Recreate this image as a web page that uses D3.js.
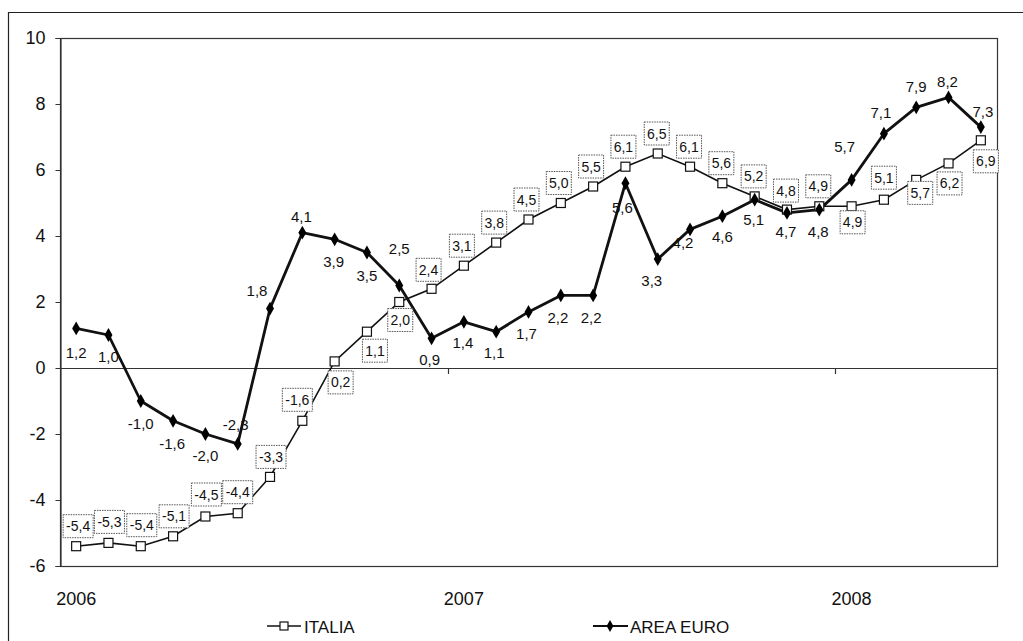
<!DOCTYPE html>
<html>
<head>
<meta charset="utf-8">
<script src="https://cdn.jsdelivr.net/npm/d3@7"></script>
<style>
  body { margin: 0; background: #fff; }
  svg { display: block; font-family: "Liberation Sans", Arial, sans-serif; }
</style>
</head>
<body>
<div id="chart"></div>
<script>
// Monthly categories, Jan 2006 - May 2008
const months = [
  "gen-06", "feb-06", "mar-06", "apr-06", "mag-06", "giu-06", "lug-06", "ago-06", "set-06", "ott-06", "nov-06", "dic-06",
  "gen-07", "feb-07", "mar-07", "apr-07", "mag-07", "giu-07", "lug-07", "ago-07", "set-07", "ott-07", "nov-07", "dic-07",
  "gen-08", "feb-08", "mar-08", "apr-08", "mag-08"
];
const yearStarts = ["gen-07", "gen-08"];
const yearLabelMonths = ["gen-06", "gen-07", "gen-08"];
const yearLabels = ["2006", "2007", "2008"];
const yTicks = [-6, -4, -2, 0, 2, 4, 6, 8, 10];

const italia = [-5.4, -5.3, -5.4, -5.1, -4.5, -4.4, -3.3, -1.6, 0.2, 1.1, 2.0, 2.4, 3.1, 3.8, 4.5,
  5.0, 5.5, 6.1, 6.5, 6.1, 5.6, 5.2, 4.8, 4.9, 4.9, 5.1, 5.7, 6.2, 6.9];
const areaEuro = [1.2, 1.0, -1.0, -1.6, -2.0, -2.3, 1.8, 4.1, 3.9, 3.5, 2.5, 0.9, 1.4, 1.1, 1.7,
  2.2, 2.2, 5.6, 3.3, 4.2, 4.6, 5.1, 4.7, 4.8, 5.7, 7.1, 7.9, 8.2, 7.3];

// label placement (offset of label centre from the point), layout only
const italiaLabelPos = [
  [2, -20], [1, -21], [1, -21], [1, -20], [1, -22], [0, -21], [1, -20], [-5, -21], [6, 21], [8, 19],
  [1, 18], [-3, -19], [-2, -20], [-2, -20], [-2, -20], [-2, -20], [-2, -20], [-2, -20], [-1, -20], [-1, -20],
  [-1, -20], [-1, -20], [-1, -19], [-1, -20], [1, 16], [0, -22], [4, 13], [1, 20], [5, 21]
];
const euroLabelPos = [
  [0, 24], [0, 22], [0, 23], [-1, 23], [0, 22], [-2, -19], [-13, -18], [-1, -16], [-1, 22], [0, 23],
  [0, -37], [-2, 21], [-1, 21], [-2, 21], [-2, 22], [-3, 22], [-2, 22], [-3, 24], [-6, 21], [-7, 13],
  [0, 20], [-1, 20], [-1, 19], [-1, 22], [-7, -33], [-3, -21], [0, -21], [-1, -16], [2, -16]
];

const W = 1023, H = 641;
const plot = { left: 60, right: 997, top: 38, bottom: 566 };

const locale = d3.formatLocale({ decimal: ",", thousands: ".", grouping: [3], currency: ["€", ""], minus: "-" });
const fmt = locale.format(".1f");

const svg = d3.select("#chart").append("svg")
  .attr("width", W)
  .attr("height", H);

// outer frame
svg.append("path")
  .attr("d", `M8.5,${H} V12.5 H${W}`)
  .attr("fill", "none")
  .attr("stroke", "#222")
  .attr("stroke-width", 1.2);

const x = d3.scaleBand().domain(months).range([plot.left, plot.right]);
const cx = m => x(m) + x.bandwidth() / 2;
const y = d3.scaleLinear().domain([-6, 10]).range([plot.bottom, plot.top]);

// plot area
svg.append("rect")
  .attr("x", plot.left + 0.5)
  .attr("y", plot.top + 0.5)
  .attr("width", plot.right - plot.left)
  .attr("height", plot.bottom - plot.top)
  .attr("fill", "none")
  .attr("stroke", "#333")
  .attr("stroke-width", 1.2);

// y axis
const yAxis = svg.append("g")
  .attr("transform", `translate(${plot.left + 0.5},0)`)
  .call(d3.axisLeft(y).tickValues(yTicks).tickSize(5).tickPadding(10).tickFormat(d3.format("d")));
yAxis.select(".domain").attr("stroke", "#333").attr("stroke-width", 1.2);
yAxis.selectAll(".tick line").attr("stroke", "#333");
yAxis.selectAll(".tick text")
  .attr("font-size", "18px")
  .attr("font-family", "Liberation Sans, Arial, sans-serif")
  .attr("fill", "#111")
  .text(d => d < 0 ? "-" + Math.abs(d) : d);

// zero line (category axis)
svg.append("line")
  .attr("x1", plot.left).attr("x2", plot.right)
  .attr("y1", Math.round(y(0)) + 0.5).attr("y2", Math.round(y(0)) + 0.5)
  .attr("stroke", "#333").attr("stroke-width", 1.2);

svg.selectAll(".year-tick")
  .data(yearStarts)
  .enter().append("line")
  .attr("class", "year-tick")
  .attr("x1", d => Math.round(x(d)) + 0.5).attr("x2", d => Math.round(x(d)) + 0.5)
  .attr("y1", y(0)).attr("y2", y(0) + 6)
  .attr("stroke", "#333").attr("stroke-width", 1.2);

svg.selectAll(".year-label")
  .data(yearLabels)
  .enter().append("text")
  .attr("class", "year-label")
  .attr("x", (d, i) => cx(yearLabelMonths[i]))
  .attr("y", 605)
  .attr("text-anchor", "middle")
  .attr("font-size", "18px")
  .attr("fill", "#111")
  .text(d => d);

// series lines
const line = d3.line().x(d => cx(d.m)).y(d => y(d.v));
const italiaPts = months.map((m, i) => ({ m, v: italia[i], i }));
const euroPts = months.map((m, i) => ({ m, v: areaEuro[i], i }));

svg.append("path")
  .datum(italiaPts)
  .attr("d", line)
  .attr("fill", "none")
  .attr("stroke", "#111")
  .attr("stroke-width", 1.6);

svg.append("path")
  .datum(euroPts)
  .attr("d", line)
  .attr("fill", "none")
  .attr("stroke", "#111")
  .attr("stroke-width", 2.8)
  .attr("stroke-linejoin", "round");

// markers
svg.selectAll(".sq")
  .data(italiaPts)
  .enter().append("rect")
  .attr("class", "sq")
  .attr("x", d => cx(d.m) - 4.5)
  .attr("y", d => y(d.v) - 4.5)
  .attr("width", 9)
  .attr("height", 9)
  .attr("fill", "#fff")
  .attr("stroke", "#111")
  .attr("stroke-width", 1.2);

const diamond = d3.symbol().type(d3.symbolDiamond).size(55);
svg.selectAll(".dm")
  .data(euroPts)
  .enter().append("path")
  .attr("class", "dm")
  .attr("transform", d => `translate(${cx(d.m)},${y(d.v)})`)
  .attr("d", diamond)
  .attr("fill", "#000");

// ITALIA boxed labels
const iLab = svg.selectAll(".ilab")
  .data(italiaPts)
  .enter().append("g")
  .attr("class", "ilab")
  .attr("transform", d => `translate(${cx(d.m) + italiaLabelPos[d.i][0]},${y(d.v) + italiaLabelPos[d.i][1]})`);

iLab.append("rect")
  .attr("x", d => d.v < 0 ? -15 : -12.5)
  .attr("y", -11.5)
  .attr("width", d => d.v < 0 ? 30 : 25)
  .attr("height", 23)
  .attr("fill", "#fff")
  .attr("stroke", "#555")
  .attr("stroke-width", 1)
  .attr("stroke-dasharray", "1.5,1");

iLab.append("text")
  .attr("text-anchor", "middle")
  .attr("dy", "0.36em")
  .attr("font-size", "14px")
  .attr("fill", "#111")
  .text(d => fmt(d.v));

// AREA EURO labels
svg.selectAll(".elab")
  .data(euroPts)
  .enter().append("text")
  .attr("class", "elab")
  .attr("x", d => cx(d.m) + euroLabelPos[d.i][0])
  .attr("y", d => y(d.v) + euroLabelPos[d.i][1])
  .attr("dy", "0.36em")
  .attr("text-anchor", "middle")
  .attr("font-size", "15px")
  .attr("fill", "#111")
  .text(d => fmt(d.v));

// legend
const legend = svg.append("g");
const legItalia = legend.append("g").attr("transform", "translate(267,626)");
legItalia.append("line").attr("x1", 0).attr("x2", 34).attr("stroke", "#111").attr("stroke-width", 1.4);
legItalia.append("rect").attr("x", 13).attr("y", -4).attr("width", 8).attr("height", 8)
  .attr("fill", "#fff").attr("stroke", "#111").attr("stroke-width", 1.2);
legItalia.append("text").attr("x", 37).attr("y", 6.5).attr("font-size", "17px").attr("fill", "#111").text("ITALIA");

const legEuro = legend.append("g").attr("transform", "translate(593,626)");
legEuro.append("line").attr("x1", 0).attr("x2", 35).attr("stroke", "#111").attr("stroke-width", 2.2);
legEuro.append("path").attr("transform", "translate(17,0)")
  .attr("d", d3.symbol().type(d3.symbolDiamond).size(40)).attr("fill", "#000");
legEuro.append("text").attr("x", 37).attr("y", 6.5).attr("font-size", "17px").attr("fill", "#111").text("AREA EURO");
</script>
</body>
</html>
